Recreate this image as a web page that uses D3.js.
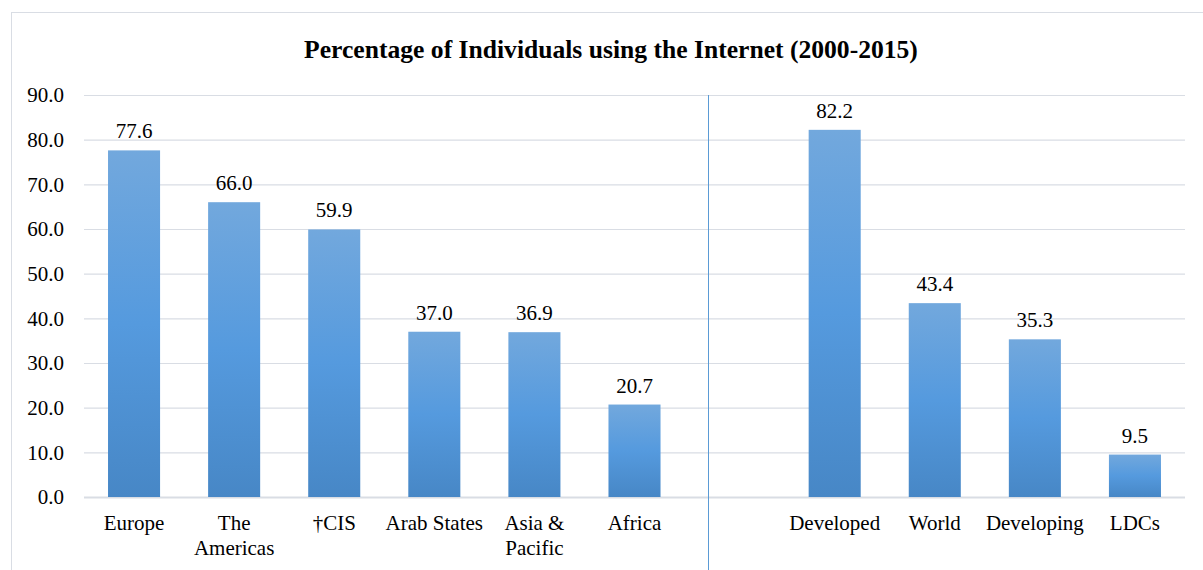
<!DOCTYPE html>
<html>
<head>
<meta charset="utf-8">
<script src="https://cdn.jsdelivr.net/npm/d3@7/dist/d3.min.js"></script>
<style>
  html, body { margin: 0; padding: 0; background: #fff; }
  svg { display: block; }
  svg text { font-family: "Liberation Serif", "Times New Roman", serif; }
</style>
</head>
<body>
<svg id="chart" width="1203" height="570"></svg>
<script>
// Internet use by region / development group, 2015 (%)
const categories = ["Europe", "The Americas", "†CIS", "Arab States", "Asia & Pacific", "Africa", "", "Developed", "World", "Developing", "LDCs"];
const categoryLines = [["Europe"], ["The", "Americas"], ["†CIS"], ["Arab States"], ["Asia &", "Pacific"], ["Africa"], [], ["Developed"], ["World"], ["Developing"], ["LDCs"]];
const values = [77.6, 66.0, 59.9, 37.0, 36.9, 20.7, null, 82.2, 43.4, 35.3, 9.5];
const yTicks = [0, 10, 20, 30, 40, 50, 60, 70, 80, 90];
const title = "Percentage of Individuals using the Internet (2000-2015)";

const FONT = "'Liberation Serif', 'Times New Roman', serif";
const FS = 21;

const svg = d3.select("#chart");
const W = 1203, H = 570;
const margin = { left: 84, right: 18, top: 95, bottom: 73 };
const plotW = W - margin.left - margin.right;
const plotH = H - margin.top - margin.bottom;

// chart frame
svg.append("rect")
  .attr("x", 11.5).attr("y", 12.5)
  .attr("width", W).attr("height", H)
  .attr("fill", "none").attr("stroke", "#d9dde4").attr("stroke-width", 1);

const defs = svg.append("defs");
const grad = defs.append("linearGradient")
  .attr("id", "barGrad").attr("x1", 0).attr("y1", 0).attr("x2", 0).attr("y2", 1);
grad.append("stop").attr("offset", "0%").attr("stop-color", "#72a8dd");
grad.append("stop").attr("offset", "50%").attr("stop-color", "#559ade");
grad.append("stop").attr("offset", "100%").attr("stop-color", "#4787c6");

const x = d3.scaleBand().domain(categories).range([0, plotW]).paddingInner(0.48).paddingOuter(0.24);
const y = d3.scaleLinear().domain([0, 90]).range([plotH, 0]);

const g = svg.append("g").attr("transform", `translate(${margin.left},${margin.top})`);

// gridlines
g.append("g")
  .selectAll("line")
  .data(yTicks)
  .join("line")
  .attr("x1", 0).attr("x2", plotW)
  .attr("y1", d => y(d) + 0.5).attr("y2", d => y(d) + 0.5)
  .attr("stroke", "#d9dde4")
  .attr("stroke-width", d => d === 0 ? 2 : 1.2);

// y axis labels
const yAxis = d3.axisLeft(y).tickValues(yTicks).tickFormat(d3.format(".1f")).tickSize(0).tickPadding(20);
const yG = g.append("g").call(yAxis).attr("font-family", FONT).attr("font-size", FS);
yG.select(".domain").remove();
yG.selectAll("text").attr("fill", "#000");

// bars
const barData = categories.map((c, i) => ({ c, v: values[i] })).filter(d => d.v != null);
g.append("g")
  .selectAll("rect")
  .data(barData)
  .join("rect")
  .attr("x", d => x(d.c))
  .attr("width", x.bandwidth())
  .attr("y", d => y(d.v))
  .attr("height", d => y(0) - y(d.v))
  .attr("fill", "url(#barGrad)");

// value labels
g.append("g")
  .attr("font-family", FONT)
  .attr("font-size", FS)
  .selectAll("text")
  .data(barData)
  .join("text")
  .attr("x", d => x(d.c) + x.bandwidth() / 2)
  .attr("y", d => y(d.v) - 12)
  .attr("text-anchor", "middle")
  .attr("fill", "#000")
  .text(d => d3.format(".1f")(d.v));

// category labels (wrapped)
const xAxis = d3.axisBottom(x).tickSize(0).tickFormat("");
const xG = g.append("g").attr("transform", `translate(0,${plotH})`).call(xAxis)
  .attr("font-family", FONT).attr("font-size", FS);
xG.select(".domain").remove();
xG.selectAll(".tick").each(function(d, i) {
  const t = d3.select(this).append("text")
    .attr("text-anchor", "middle")
    .attr("fill", "#000")
    .attr("y", 33);
  categoryLines[i].forEach((line, k) => {
    t.append("tspan").attr("x", 0).attr("dy", k === 0 ? 0 : 25).text(line);
  });
});

// separator between regions and development groups
const sepX = Math.round(x("") + x.bandwidth() / 2 - x.step() * 0.27) + 0.5;
g.append("line")
  .attr("x1", sepX).attr("x2", sepX)
  .attr("y1", 0).attr("y2", H - margin.top)
  .attr("stroke", "#5b9bd5").attr("stroke-width", 1);

// title
svg.append("text")
  .attr("x", 611).attr("y", 58)
  .attr("text-anchor", "middle")
  .attr("font-family", FONT)
  .attr("font-size", 25.6)
  .attr("font-weight", "bold")
  .attr("fill", "#000")
  .text(title);
</script>
</body>
</html>
